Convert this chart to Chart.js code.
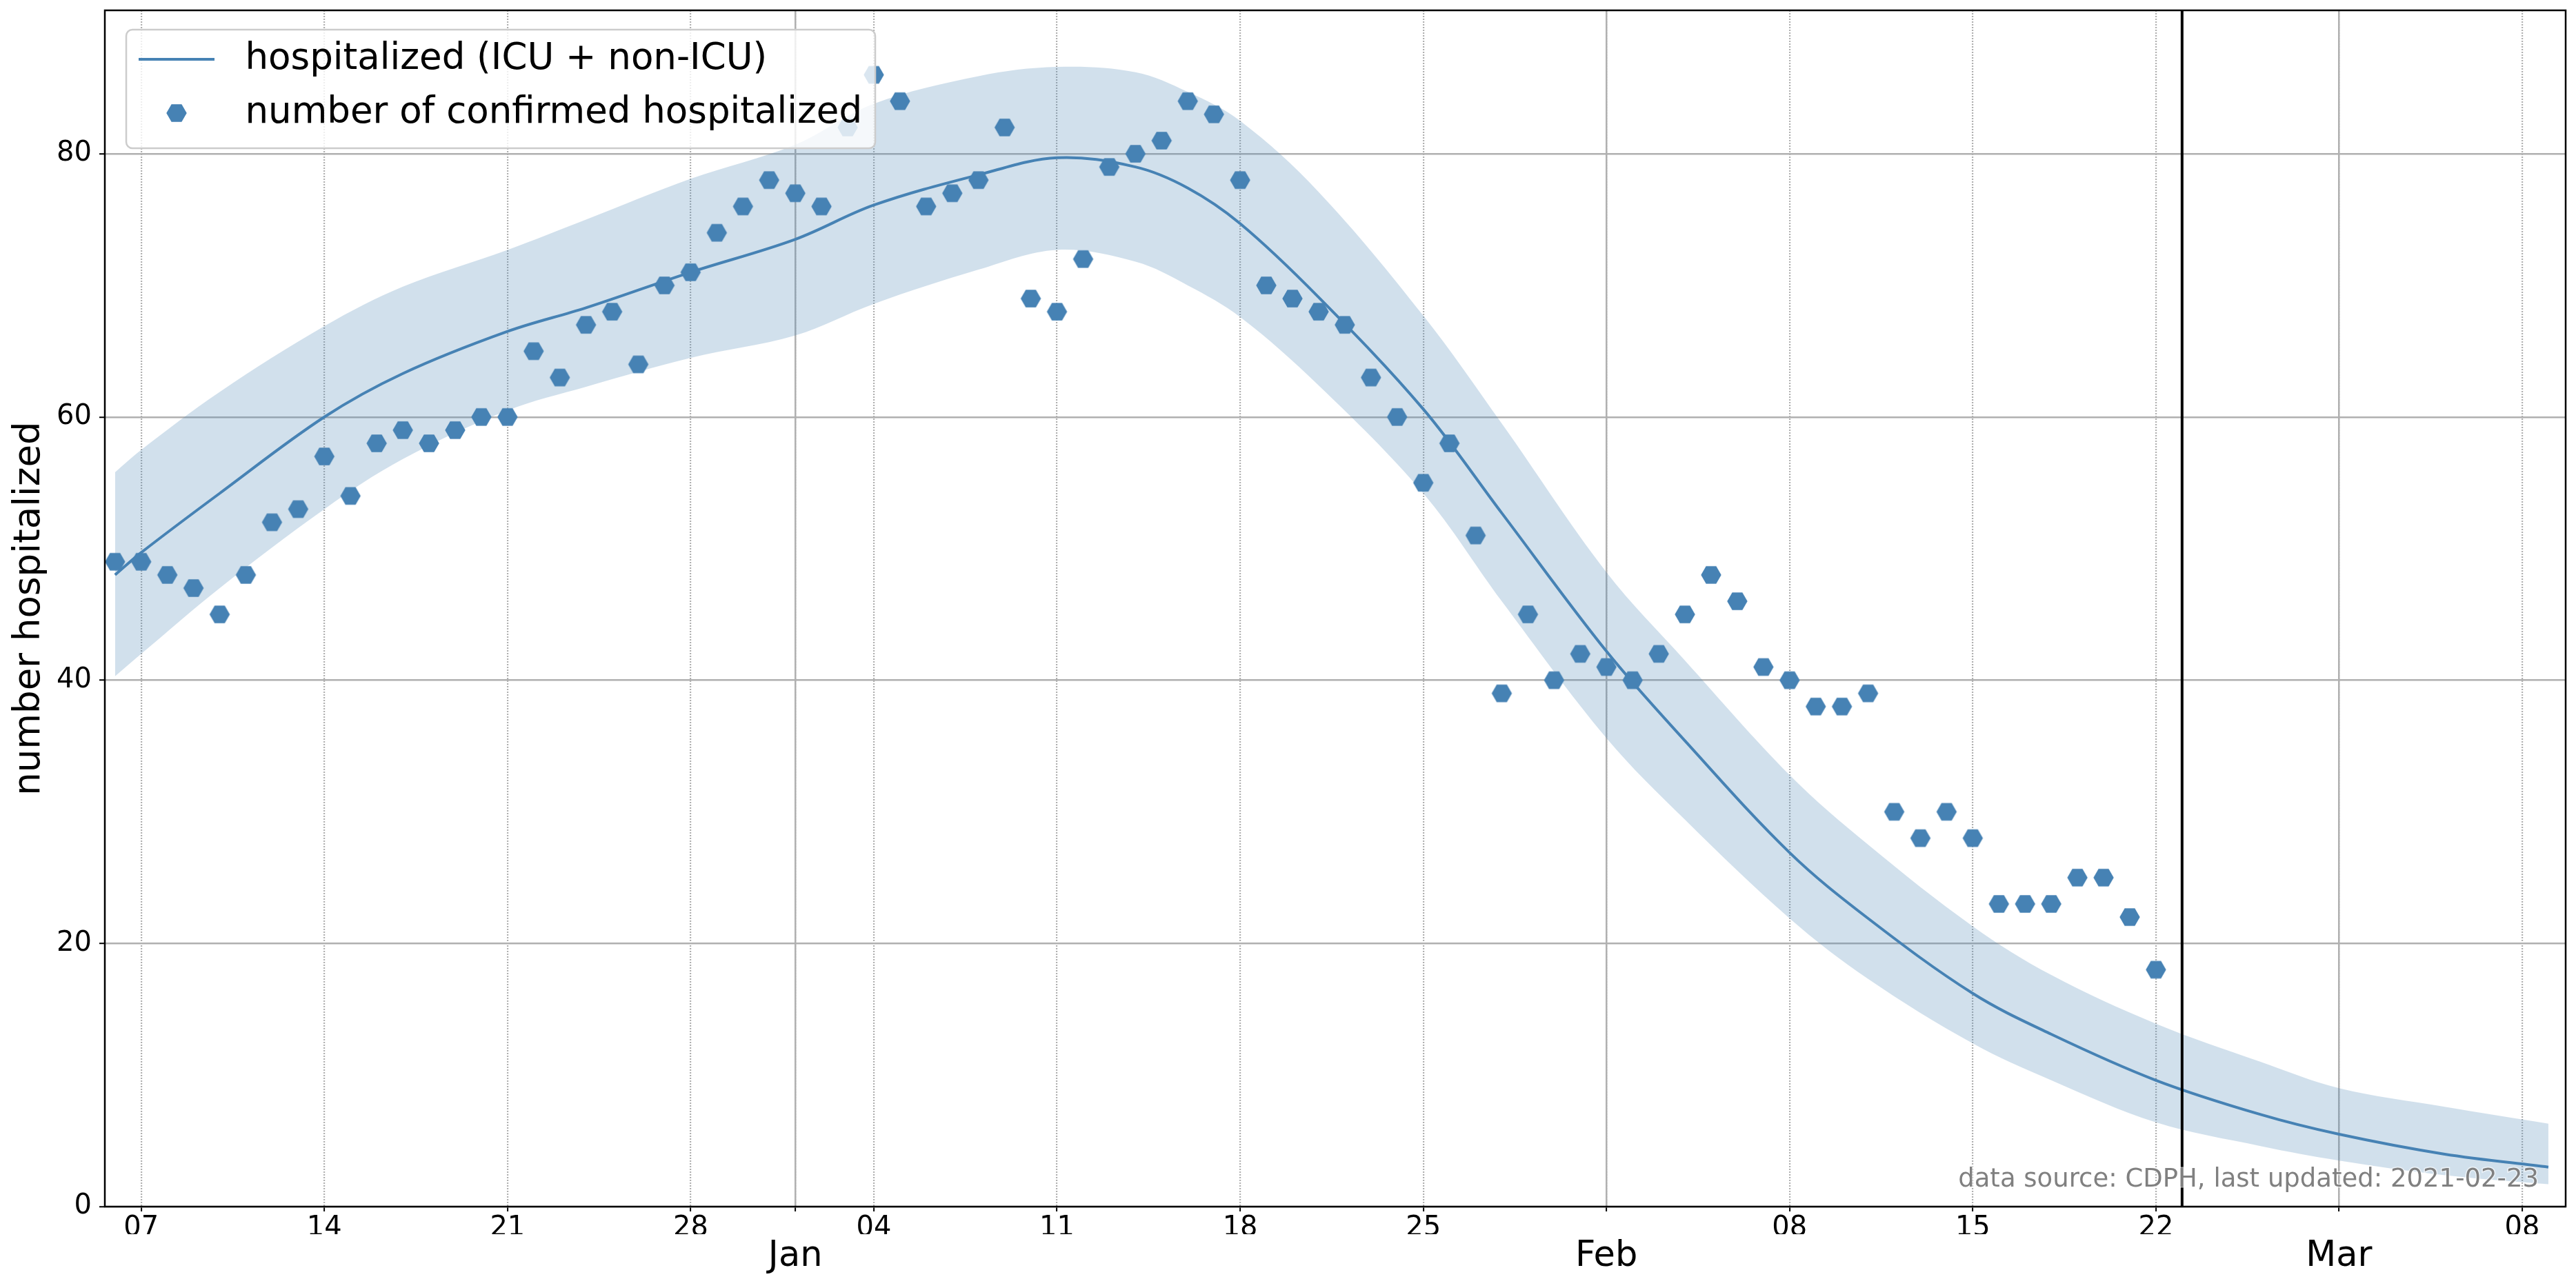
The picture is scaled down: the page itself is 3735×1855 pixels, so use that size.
<!DOCTYPE html>
<html>
<head>
<meta charset="utf-8">
<title>number hospitalized</title>
<script src="https://cdn.jsdelivr.net/npm/chart.js@4.4.1/dist/chart.umd.min.js"></script>
<style>
  html, body { margin: 0; padding: 0; background: #fff; overflow: hidden; }
  #myChart { display: block; }
</style>
</head>
<body>
<canvas id="myChart" width="3735" height="1855"></canvas>
<script>
// reported daily counts
const obsDates = [
  '2020-12-06','2020-12-07','2020-12-08','2020-12-09','2020-12-10','2020-12-11','2020-12-12','2020-12-13',
  '2020-12-14','2020-12-15','2020-12-16','2020-12-17','2020-12-18','2020-12-19','2020-12-20','2020-12-21',
  '2020-12-22','2020-12-23','2020-12-24','2020-12-25','2020-12-26','2020-12-27','2020-12-28','2020-12-29',
  '2020-12-30','2020-12-31','2021-01-01','2021-01-02','2021-01-03','2021-01-04','2021-01-05','2021-01-06',
  '2021-01-07','2021-01-08','2021-01-09','2021-01-10','2021-01-11','2021-01-12','2021-01-13','2021-01-14',
  '2021-01-15','2021-01-16','2021-01-17','2021-01-18','2021-01-19','2021-01-20','2021-01-21','2021-01-22',
  '2021-01-23','2021-01-24','2021-01-25','2021-01-26','2021-01-27','2021-01-28','2021-01-29','2021-01-30',
  '2021-01-31','2021-02-01','2021-02-02','2021-02-03','2021-02-04','2021-02-05','2021-02-06','2021-02-07',
  '2021-02-08','2021-02-09','2021-02-10','2021-02-11','2021-02-12','2021-02-13','2021-02-14','2021-02-15',
  '2021-02-16','2021-02-17','2021-02-18','2021-02-19','2021-02-20','2021-02-21','2021-02-22'
];
const obsValues = [
  49, 49, 48, 47, 45, 48, 52, 53,
  57, 54, 58, 59, 58, 59, 60, 60,
  65, 63, 67, 68, 64, 70, 71, 74,
  76, 78, 77, 76, 82, 86, 84, 76,
  77, 78, 82, 69, 68, 72, 79, 80,
  81, 84, 83, 78, 70, 69, 68, 67,
  63, 60, 55, 58, 51, 39, 45, 40,
  42, 41, 40, 42, 45, 48, 46, 41,
  40, 38, 38, 39, 30, 28, 30, 28,
  23, 23, 23, 25, 25, 22, 18
];

// model curve and its band
const modelDates = [
  '2020-12-06','2020-12-07','2020-12-10','2020-12-14','2020-12-17','2020-12-21','2020-12-24','2020-12-28',
  '2021-01-01','2021-01-04','2021-01-08','2021-01-11','2021-01-14','2021-01-16','2021-01-18','2021-01-21',
  '2021-01-25','2021-01-28','2021-02-01','2021-02-04','2021-02-08','2021-02-11','2021-02-15','2021-02-18',
  '2021-02-22','2021-02-26','2021-03-01','2021-03-05','2021-03-09'
];
const modelMid = [48.0, 49.7, 54.2, 60.0, 63.3, 66.5, 68.3, 71.0,
  73.5, 76.1, 78.4, 79.7, 79.0, 77.4, 74.7, 69.1,
  60.6, 52.7, 42.2, 35.4, 26.9, 21.9, 16.2, 13.1,
  9.6, 7.0, 5.5, 4.0, 3.0];
const modelLow = [40.3, 42.0, 47.0, 53.0, 56.8, 60.5, 62.3, 64.5,
  66.2, 68.6, 71.2, 72.7, 71.8, 70.0, 67.6, 62.4,
  54.2, 46.0, 35.6, 29.4, 21.9, 17.3, 12.4, 9.6,
  6.4, 4.6, 3.5, 2.4, 1.7];
const modelHigh = [55.8, 57.5, 61.9, 66.9, 69.9, 72.7, 75.0, 78.1,
  80.7, 83.8, 85.9, 86.6, 86.2, 84.7, 82.5, 77.1,
  67.7, 59.5, 48.2, 41.5, 32.8, 27.5, 21.3, 17.6,
  13.9, 11.0, 9.0, 7.6, 6.3];

const weekTickDates = ['2020-12-07','2020-12-14','2020-12-21','2020-12-28','2021-01-04','2021-01-11',
  '2021-01-18','2021-01-25','2021-02-08','2021-02-15','2021-02-22','2021-03-08'];
const weekTickLabels = ['07','14','21','28','04','11','18','25','08','15','22','08'];
const monthTickDates = ['2021-01-01','2021-02-01','2021-03-01'];
const monthTickLabels = ['Jan','Feb','Mar'];
const yTicks = [0, 20, 40, 60, 80];

const lastUpdated = '2021-02-23';
const sourceNote = 'data source: CDPH, last updated: 2021-02-23';
const legendLabels = ['hospitalized (ICU + non-ICU)', 'number of confirmed hospitalized'];

const BLUE = '#4682b4';
const GRID = '#b0b0b0';
const FONT = "'DejaVu Sans', sans-serif";

function toDay(s) {
  const p = s.split('-').map(Number);
  return (Date.UTC(p[0], p[1] - 1, p[2]) - Date.UTC(2021, 0, 1)) / 86400000;
}

const xMin = toDay('2020-12-06') - 0.39;
const xMax = toDay('2021-03-09') + 0.66;
const yMax = 90.9;

function hexCanvas(w, h, cx, cy, r) {
  const c = document.createElement('canvas');
  c.width = w; c.height = h;
  const g = c.getContext('2d');
  g.fillStyle = BLUE;
  g.beginPath();
  for (let k = 0; k < 6; k++) {
    const t = k * Math.PI / 3;
    const px = cx + r * Math.cos(t), py = cy + r * Math.sin(t);
    if (k) g.lineTo(px, py); else g.moveTo(px, py);
  }
  g.closePath();
  g.fill();
  return c;
}

function lineCanvas(w, h, len) {
  const c = document.createElement('canvas');
  c.width = w; c.height = h;
  const g = c.getContext('2d');
  g.strokeStyle = BLUE;
  g.lineWidth = 4;
  g.beginPath();
  g.moveTo(0, h / 2);
  g.lineTo(len, h / 2);
  g.stroke();
  return c;
}

const dotImg = hexCanvas(32, 30, 16, 15, 14.7);
const legendIcons = { 1: hexCanvas(128, 30, 55, 15, 14.7), 2: lineCanvas(128, 30, 110) };

function roundRect(ctx, x, y, w, h, r) {
  ctx.beginPath();
  ctx.moveTo(x + r, y);
  ctx.lineTo(x + w - r, y);
  ctx.arcTo(x + w, y, x + w, y + r, r);
  ctx.lineTo(x + w, y + h - r);
  ctx.arcTo(x + w, y + h, x + w - r, y + h, r);
  ctx.lineTo(x + r, y + h);
  ctx.arcTo(x, y + h, x, y + h - r, r);
  ctx.lineTo(x, y + r);
  ctx.arcTo(x, y, x + r, y, r);
  ctx.closePath();
}

function noEdgePadding(s) {
  s.paddingTop = 0;
  s.paddingBottom = 0;
  s.paddingLeft = 0;
  s.paddingRight = 0;
}

const axesDecor = {
  id: 'axesDecor',
  afterLayout(chart) {
    const a = chart.chartArea, lg = chart.legend;
    lg.left = a.left + 24;
    lg.top = a.top + 19.5;
    lg.right = a.right;
    lg.bottom = a.bottom;
  },
  afterDatasetsDraw(chart) {
    const ctx = chart.ctx, lg = chart.legend;
    ctx.save();
    ctx.font = '53px ' + FONT;
    const textW = Math.max(...legendLabels.map(t => ctx.measureText(t).width));
    const bx = lg.left + 7, by = lg.top + 8.5;
    const bw = (lg.left + 25 + 128 + 26.5 + textW + 19) - bx;
    const bh = (lg.top + 180.5) - by;
    roundRect(ctx, bx, by, bw, bh, 9);
    ctx.fillStyle = 'rgba(255,255,255,0.8)';
    ctx.fill();
    ctx.lineWidth = 2.5;
    ctx.strokeStyle = '#cccccc';
    ctx.stroke();
    ctx.restore();
    lg.draw();
  },
  afterDraw(chart) {
    const ctx = chart.ctx, a = chart.chartArea;
    ctx.save();
    ctx.lineWidth = 2.5;
    ctx.strokeStyle = '#000';
    ctx.strokeRect(a.left, a.top, a.right - a.left, a.bottom - a.top);
    ctx.font = '37px ' + FONT;
    ctx.textAlign = 'right';
    ctx.textBaseline = 'middle';
    ctx.lineWidth = 3;
    ctx.strokeStyle = 'rgba(255,255,255,0.6)';
    ctx.strokeText(sourceNote, a.right - 39, a.bottom - 39);
    ctx.fillStyle = '#808080';
    ctx.fillText(sourceNote, a.right - 39, a.bottom - 39);
    ctx.restore();
  }
};

const xTickDays = weekTickDates.map(toDay).concat(monthTickDates.map(toDay));
const xTickText = weekTickLabels.concat(monthTickLabels.map(() => ''));

const lastDay = toDay(lastUpdated);

const datasets = [
  {
    label: 'last updated',
    data: [{ x: lastDay, y: 0 }, { x: lastDay, y: yMax }],
    borderColor: '#000',
    borderWidth: 4,
    pointRadius: 0,
    fill: false
  },
  {
    label: legendLabels[1],
    data: obsDates.map((d, i) => ({ x: toDay(d), y: obsValues[i] })),
    showLine: false,
    pointStyle: dotImg,
    pointRadius: 14,
    backgroundColor: BLUE,
    borderColor: BLUE,
    fill: false
  },
  {
    label: legendLabels[0],
    data: modelDates.map((d, i) => ({ x: toDay(d), y: modelMid[i] })),
    borderColor: BLUE,
    borderWidth: 4,
    pointRadius: 0,
    tension: 0.35,
    fill: false
  },
  {
    label: 'upper',
    data: modelDates.map((d, i) => ({ x: toDay(d), y: modelHigh[i] })),
    borderColor: 'rgba(0,0,0,0)',
    borderWidth: 0,
    pointRadius: 0,
    tension: 0.35,
    backgroundColor: 'rgba(70,130,180,0.25)',
    fill: '+1'
  },
  {
    label: 'lower',
    data: modelDates.map((d, i) => ({ x: toDay(d), y: modelLow[i] })),
    borderColor: 'rgba(0,0,0,0)',
    borderWidth: 0,
    pointRadius: 0,
    tension: 0.35,
    fill: false
  }
];

Chart.defaults.font.family = FONT;
Chart.defaults.color = '#000';

const myChart = new Chart(document.getElementById('myChart'), {
  type: 'line',
  data: { datasets: datasets },
  options: {
    responsive: false,
    animation: false,
    events: [],
    devicePixelRatio: 1,
    layout: { padding: { left: 0, right: 9, top: 10, bottom: 0 } },
    scales: {
      x: {
        type: 'linear',
        position: 'bottom',
        weight: 1,
        min: xMin,
        max: xMax,
        afterBuildTicks: s => { s.ticks = xTickDays.map(v => ({ value: v })); },
        afterFit: s => { s.height = 40; noEdgePadding(s); },
        ticks: {
          autoSkip: false,
          maxRotation: 0,
          minRotation: 0,
          padding: 1,
          color: '#000',
          font: { size: 40 },
          callback: (v, i) => xTickText[i]
        },
        grid: {
          color: GRID,
          lineWidth: 2.2,
          tickLength: 7,
          tickColor: '#000',
          tickWidth: 2
        },
        border: { display: false, dash: [2, 2] }
      },
      x2: {
        type: 'linear',
        position: 'bottom',
        weight: 2,
        min: xMin,
        max: xMax,
        afterBuildTicks: s => { s.ticks = monthTickDates.map(d => ({ value: toDay(d) })); },
        afterFit: s => { s.height = 65; noEdgePadding(s); },
        ticks: {
          autoSkip: false,
          maxRotation: 0,
          minRotation: 0,
          padding: 2,
          color: '#000',
          font: { size: 51 },
          callback: (v, i) => monthTickLabels[i]
        },
        grid: { color: GRID, lineWidth: 2.5, drawTicks: false },
        border: { display: false }
      },
      y: {
        type: 'linear',
        min: 0,
        max: yMax,
        afterBuildTicks: s => { s.ticks = yTicks.map(v => ({ value: v })); },
        afterFit: s => { s.width = 152; noEdgePadding(s); },
        ticks: { padding: 11, color: '#000', font: { size: 40 } },
        grid: { color: GRID, lineWidth: 2.5, tickLength: 8, tickColor: '#000', tickWidth: 2 },
        border: { display: false },
        title: {
          display: true,
          text: 'number hospitalized',
          color: '#000',
          font: { size: 53 },
          padding: { top: 11, bottom: 0 }
        }
      }
    },
    plugins: {
      title: { display: false },
      tooltip: { enabled: false },
      legend: {
        display: true,
        position: 'chartArea',
        align: 'start',
        labels: {
          usePointStyle: true,
          pointStyleWidth: 128,
          padding: 25,
          color: '#000',
          font: { size: 53 },
          generateLabels: chart => {
            const items = Chart.defaults.plugins.legend.labels.generateLabels(chart);
            return items
              .filter(it => legendIcons[it.datasetIndex])
              .map(it => Object.assign(it, { pointStyle: legendIcons[it.datasetIndex] }));
          },
          sort: (a, b) => b.datasetIndex - a.datasetIndex
        }
      }
    }
  },
  plugins: [axesDecor]
});
</script>
</body>
</html>
